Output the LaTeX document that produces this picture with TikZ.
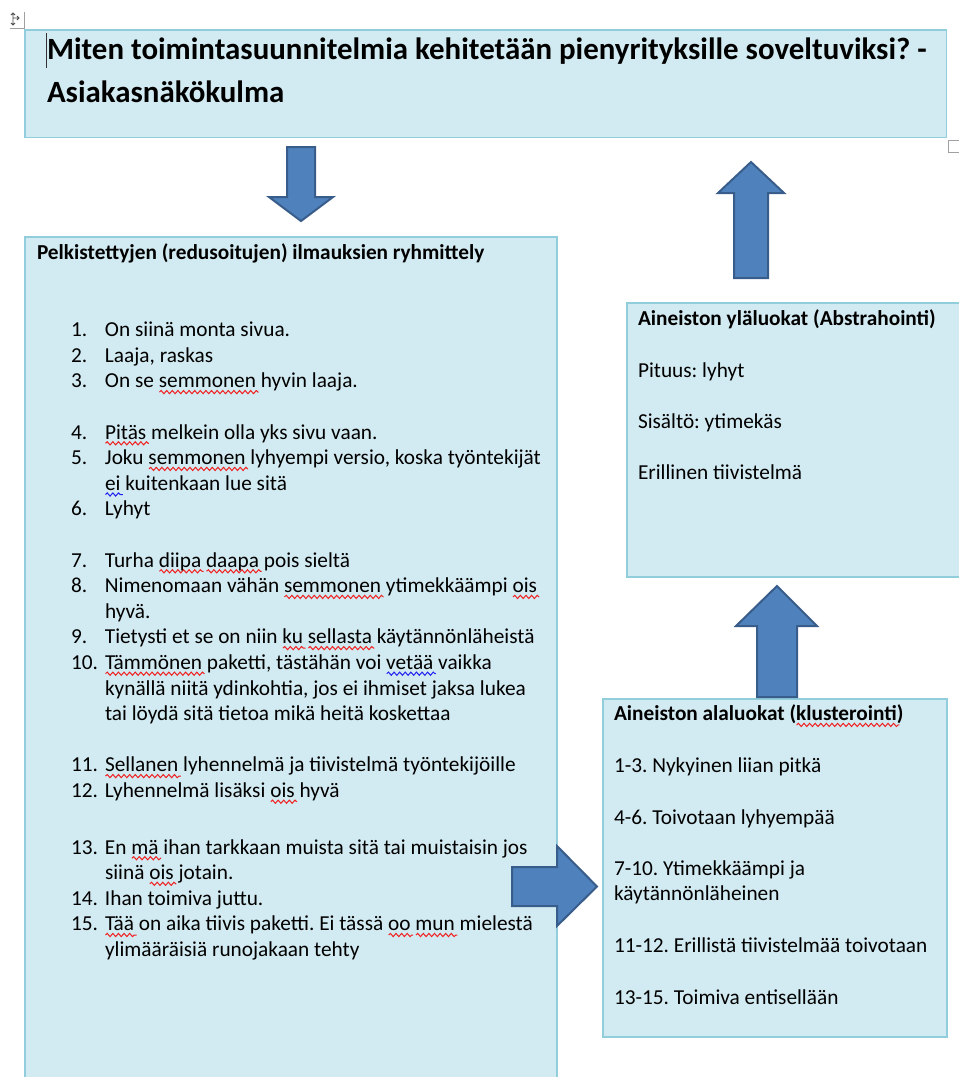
\documentclass[tikz,border=0pt]{standalone}
\usepackage{fontspec}
\setmainfont{Carlito}
\usetikzlibrary{decorations.pathmorphing}
\frenchspacing
\definecolor{boxfill}{HTML}{D2EAF1}
\definecolor{boxline}{HTML}{92CDDC}
\definecolor{arrfill}{HTML}{4F81BD}
\definecolor{arrline}{HTML}{385D8A}
\definecolor{spellred}{HTML}{F02020}
\definecolor{spellblue}{HTML}{2020F0}
\definecolor{handlegray}{HTML}{A0A0A0}
\newsavebox\wbox
\newlength\wlen
\newcommand\wavy[2]{\sbox\wbox{#2}\setlength\wlen{\wd\wbox}\addtolength\wlen{2pt}\rlap{\tikz[baseline=0pt,x=1pt,y=1pt]\draw[#1,line width=1pt,decorate,decoration={snake,amplitude=1.6pt,segment length=5.6pt}] (0pt,-4.2pt) -- (\wlen,-4.2pt);}\usebox\wbox}
\newcommand\rw[1]{\wavy{spellred}{#1}}
\newcommand\bw[1]{\wavy{spellblue}{#1}}
\newcommand\tline[3]{\node[txt,anchor=base west] (#1) at (71,#2) {#3};}
\newcommand\num[1]{\makebox[34pt][l]{#1}}
\newcommand\cont{\hspace*{34pt}}
\begin{document}
\begin{tikzpicture}[x=1pt,y=-1pt,
  box/.style={draw=boxline,fill=boxfill,line width=1.3pt,inner sep=0pt,outer sep=0pt,rectangle,anchor=north west},
  txt/.style={inner sep=0pt,outer sep=0pt,font=\fontsize{21.3}{25.6}\selectfont\frenchspacing,text=black},
  hd/.style={txt,font=\fontsize{21.3}{25.6}\selectfont\bfseries\frenchspacing},
  ttl/.style={inner sep=0pt,outer sep=0pt,font=\fontsize{30.9}{43}\selectfont\bfseries\frenchspacing,text=black},
  arr/.style={fill=arrfill,draw=arrline,line width=2pt,line join=miter}]
\useasboundingbox (0,0) rectangle (959,1077);
\fill[white] (0,0) rectangle (959,1077);

% handles
\draw[handlegray,line width=0.8pt] (24,12) -- (24,28) -- (10,28);
\draw[black!70,line width=0.9pt] (13,13) -- (13,25) (11,15) -- (13,13) -- (15,15) (11,23) -- (13,25) -- (15,23) (13,18) -- (19,18) (17,16) -- (19,18) -- (17,20);
\draw[handlegray,fill=white,line width=0.8pt] (948,140) rectangle (960,152);

% boxes
\node[box,minimum width=921.7pt,minimum height=107.7pt] (title) at (25,30) {};
\node[box,minimum width=532pt,minimum height=860pt] (left) at (25,237) {};
\node[box,minimum width=345pt,minimum height=274pt] (upper) at (627,303) {};
\node[box,minimum width=344pt,minimum height=338pt] (lower) at (603,699) {};

% arrows
\path[arr] (287,147) -- (315,147) -- (315,197) -- (333,197) -- (301,221) -- (269,197) -- (287,197) -- cycle;
\path[arr] (734,278) -- (768,278) -- (768,193) -- (784,193) -- (751,162) -- (718,193) -- (734,193) -- cycle;
\path[arr] (757,697) -- (797,697) -- (797,626) -- (817,626) -- (777,586) -- (736,626) -- (757,626) -- cycle;
\path[arr] (512,867) -- (557,867) -- (557,846) -- (597,886.5) -- (557,926) -- (557,906) -- (512,906) -- cycle;

% title
\draw[black!80,line width=1pt] (46.5,33) -- (46.5,68);
\node[ttl,anchor=base west] (t1) at (47,59) {Miten toimintasuunnitelmia kehitetään pienyrityksille soveltuviksi? -};
\node[ttl,anchor=base west] (t2) at (47,102) {Asiakasnäkökulma};

% left box
\node[hd,anchor=base west] (lh) at (37,259) {Pelkistettyjen (redusoitujen) ilmauksien ryhmittely};
\tline{l1}{336.7}{\num{1.}On siinä monta sivua.}
\tline{l2}{362.3}{\num{2.}Laaja, raskas}
\tline{l3}{387.9}{\num{3.}On se \rw{semmonen} hyvin laaja.}
\tline{l4}{439.1}{\num{4.}\rw{Pitäs} melkein olla yks sivu vaan.}
\tline{l5}{464.7}{\num{5.}Joku \rw{semmonen} lyhyempi versio, koska työntekijät}
\tline{l5b}{490.3}{\cont\bw{ei} kuitenkaan lue sitä}
\tline{l6}{515.9}{\num{6.}Lyhyt}
\tline{l7}{567.1}{\num{7.}Turha \rw{diipa} \rw{daapa} pois sieltä}
\tline{l8}{592.7}{\num{8.}Nimenomaan vähän \rw{semmonen} ytimekkäämpi \rw{ois}}
\tline{l8b}{618.3}{\cont hyvä.}
\tline{l9}{643.9}{\num{9.}Tietysti et se on niin \rw{ku} \rw{sellasta} käytännönläheistä}
\tline{l10}{669.5}{\num{10.}\rw{Tämmönen} paketti, tästähän voi \bw{vetää} vaikka}
\tline{l10b}{695.1}{\cont kynällä niitä ydinkohtia, jos ei ihmiset jaksa lukea}
\tline{l10c}{720.7}{\cont tai löydä sitä tietoa mikä heitä koskettaa}
\tline{l11}{771.9}{\num{11.}\rw{Sellanen} lyhennelmä ja tiivistelmä työntekijöille}
\tline{l12}{797.5}{\num{12.}Lyhennelmä lisäksi \rw{ois} hyvä}
\tline{l13}{854}{\num{13.}En \rw{mä} ihan tarkkaan muista sitä tai muistaisin jos}
\tline{l13b}{879.6}{\cont siinä \rw{ois} jotain.}
\tline{l14}{905.2}{\num{14.}Ihan toimiva juttu.}
\tline{l15}{930.8}{\num{15.}\rw{Tää} on aika tiivis paketti. Ei tässä \rw{oo} \rw{mun} mielestä}
\tline{l15b}{956.4}{\cont ylimääräisiä runojakaan tehty}

% upper right box
\node[hd,anchor=base west] (uh) at (638,325) {Aineiston yläluokat (Abstrahointi)};
\node[txt,anchor=base west] (u1) at (638,377) {Pituus: lyhyt};
\node[txt,anchor=base west] (u2) at (638,428) {Sisältö: ytimekäs};
\node[txt,anchor=base west] (u3) at (638,479) {Erillinen tiivistelmä};

% lower right box
\node[hd,anchor=base west] (bh) at (614,720.7) {Aineiston alaluokat (\rw{klusterointi})};
\node[txt,anchor=base west] (b1) at (614,772) {1-3. Nykyinen liian pitkä};
\node[txt,anchor=base west] (b2) at (614,824) {4-6. Toivotaan lyhyempää};
\node[txt,anchor=base west] (b3) at (614,875) {7-10. Ytimekkäämpi ja};
\node[txt,anchor=base west] (b3b) at (614,900) {käytännönläheinen};
\node[txt,anchor=base west] (b4) at (614,952.7) {11-12. Erillistä tiivistelmää toivotaan};
\node[txt,anchor=base west] (b5) at (614,1004) {13-15. Toimiva entisellään};
\end{tikzpicture}
\end{document}
